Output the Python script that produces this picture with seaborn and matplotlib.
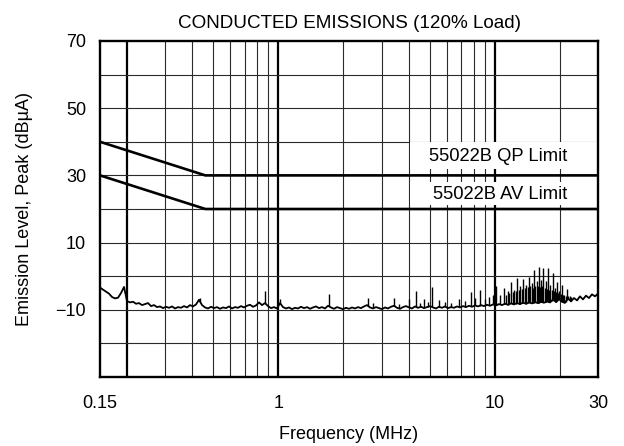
"""Conducted emissions plot (120% load) with 55022B limits"""

from matplotlib import pyplot as plt
import numpy as np
import pandas as pd
import seaborn as sns

# Limit lines (MHz, dBuA)
limit_freq = [0.15, 0.46, 30]
qp_limit = [40, 30, 30]
av_limit = [30, 20, 20]

trace_level = [
    -3.4, -4.0, -4.6, -5.2, -6.2, -6.6, -6.4, -5.0, -3.2, -7.4,
    -7.8, -7.6, -8.2, -8.0, -8.6, -8.3, -8.0, -8.9, -8.6, -9.2,
    -9.0, -9.5, -9.1, -9.4, -9.0, -9.6, -9.2, -9.4, -8.9, -9.3,
    -8.6, -9.0, -8.4, -7.0, -8.6, -9.3, -9.6, -9.1, -9.5, -9.2,
    -9.7, -9.3, -9.5, -9.0, -9.6, -9.2, -9.4, -8.9, -9.3, -8.8,
    -8.5, -9.1, -8.7, -7.8, -8.6, -8.0, -8.9, -9.5, -9.2, -9.6,
    -8.0, -9.2, -9.6, -9.3, -9.8, -9.4, -9.6, -9.1, -9.5, -9.2,
    -9.7, -9.3, -9.0, -9.5, -9.2, -9.6, -8.8, -9.3, -9.7, -9.2,
    -9.5, -9.8, -9.4, -9.7, -9.3, -9.6, -9.2, -9.5, -9.0, -8.6,
    -9.3, -9.6, -9.2, -9.5, -9.8, -9.3, -9.6, -9.1, -8.8, -9.4,
    -9.7, -9.2, -8.9, -9.3, -9.6, -9.0, -9.4, -9.1, -9.5, -9.2,
    -8.9, -9.3, -9.6, -9.1, -9.4, -9.0, -9.5, -9.2, -9.4, -9.0,
    -9.3, -8.9, -9.2, -8.8, -9.1, -8.7, -9.0, -8.6, -8.9, -8.5,
    -8.8, -8.4, -8.7, -8.3, -8.6, -8.2, -8.5, -8.1, -8.4, -8.0,
    -8.3, -7.9, -8.2, -7.8, -8.1, -7.7, -8.0, -7.6, -7.9, -7.5,
    -7.8, -6.9, -7.7, -6.8, -7.6, -7.9, -6.6, -7.5, -6.5, -7.2,
    -6.0, -6.9, -5.8, -6.5, -5.4, -6.0, -5.2,
]
trace_freq = np.geomspace(0.15, 30, len(trace_level))

# Narrow harmonic spikes above the noise floor (MHz, dBuA)
spike_freq = [
    0.435, 0.868, 1.018, 1.715, 2.60, 2.75, 3.42, 3.60, 4.02, 4.33,
    4.50, 4.71, 4.90, 5.13, 5.53, 5.90, 6.30, 6.84, 7.30, 7.77,
    8.10, 8.55, 9.00, 9.41, 9.80, 10.14, 10.60, 11.04, 11.50, 11.90,
    12.30, 12.68, 13.10, 13.52, 13.95, 14.40, 14.80, 15.19, 15.60, 16.02,
    16.40, 16.72, 17.20, 17.64, 18.10, 18.60, 19.00, 19.41, 19.90, 20.46,
    21.00, 21.58, 22.20,
    11.3, 11.7, 12.1, 12.5, 12.9, 13.3, 13.75, 14.2, 14.6, 15.0,
    15.4, 15.8, 16.2, 16.6, 17.0, 17.4, 17.9, 18.35, 18.8, 19.2,
    19.7, 20.2, 20.7, 21.3, 21.9, 22.6, 23.3, 24.0,
]
spike_peak = [
    -6.4, -4.3, -6.7, -5.2, -6.4, -8.0, -6.4, -8.2, -6.7, -4.3,
    -8.0, -6.7, -7.8, -3.1, -7.0, -7.8, -8.0, -6.7, -7.5, -4.6,
    -6.5, -4.0, -6.8, -6.1, -5.5, -2.8, -5.5, -3.4, -4.5, -1.6,
    -4.0, -0.4, -3.0, -0.7, -2.5, -0.1, -2.0, 1.9, -1.5, 2.8,
    -1.0, 2.5, -1.5, 2.5, -2.5, 1.0, -3.5, -1.6, -4.5, -2.5,
    -5.5, -3.7, -6.0,
    -5.5, -5.0, -4.8, -4.5, -4.2, -3.8, -3.5, -3.2, -3.0, -3.5,
    -3.0, -2.8, -3.2, -3.0, -3.5, -3.8, -4.0, -4.2, -4.5, -4.8,
    -5.0, -5.2, -5.5, -5.8, -6.0, -6.2, -6.5, -6.8,
]

x_ticks = [0.15, 1, 10, 30]
x_tick_labels = ['0.15', '1', '10', '30']
y_ticks = [70, 50, 30, 10, -10]
y_tick_labels = ['70', '50', '30', '10', '\u221210']


def emissions_plot():
    """Gráfico de emisiones conducidas"""
    sns.set_style('white')
    plt.rcParams['font.family'] = ['Liberation Sans', 'DejaVu Sans']
    plt.rcParams['text.color'] = 'black'
    plt.rcParams['axes.labelcolor'] = 'black'
    plt.rcParams['xtick.color'] = 'black'
    plt.rcParams['ytick.color'] = 'black'

    fig, ax = plt.subplots(figsize=(6.24, 4.46), dpi=100)
    fig.subplots_adjust(left=0.1603, right=0.9583, top=0.9081, bottom=0.1547)
    ax.set_xscale('log')
    ax.set_xlim(0.15, 30)
    ax.set_ylim(-30, 70)

    # Rejilla: finas en cada unidad, gruesas en 0.2, 1 y 10
    thin = [0.3, 0.4, 0.5, 0.6, 0.7, 0.8, 0.9, 2, 3, 4, 5, 6, 7, 8, 9, 20]
    for f in thin:
        ax.axvline(f, color='#2a2a2a', lw=0.8, zorder=1)
    for f in [0.2, 1, 10]:
        ax.axvline(f, color='black', lw=1.6, zorder=1)
    for level in range(-20, 70, 10):
        ax.axhline(level, color='#2a2a2a', lw=0.8, zorder=1)

    # Fondos blancos de las etiquetas de límite
    ax.axhspan(31.8, 39.9, xmin=0.622, xmax=1, color='white', lw=0, zorder=2)
    ax.axhspan(21.3, 27.9, xmin=0.622, xmax=1, color='white', lw=0, zorder=2)

    limits = pd.DataFrame({'freq': limit_freq, 'qp': qp_limit, 'av': av_limit})
    sns.lineplot(data=limits, x='freq', y='qp', color='black', lw=1.9,
                 estimator=None, ax=ax, zorder=4)
    sns.lineplot(data=limits, x='freq', y='av', color='black', lw=1.9,
                 estimator=None, ax=ax, zorder=4)

    trace = pd.DataFrame({'freq': trace_freq, 'level': trace_level})
    sns.lineplot(data=trace, x='freq', y='level', color='black', lw=1.3,
                 estimator=None, ax=ax, zorder=3)
    base = np.interp(np.log10(spike_freq), np.log10(trace_freq), trace_level)
    ax.vlines(spike_freq, base, spike_peak, color='black', lw=1.0, zorder=3)

    ax.text(21.6, 35.7, '55022B QP Limit', ha='right', va='center',
            fontsize=13.2, zorder=5)
    ax.text(21.6, 24.3, '55022B AV Limit', ha='right', va='center',
            fontsize=13.2, zorder=5)

    ax.set_xticks(x_ticks)
    ax.set_xticklabels(x_tick_labels)
    ax.xaxis.set_minor_locator(plt.NullLocator())
    ax.set_yticks(y_ticks)
    ax.set_yticklabels(y_tick_labels)
    ax.tick_params(axis='x', length=0, pad=13, labelsize=13)
    ax.tick_params(axis='y', length=0, pad=10, labelsize=13)

    for spine in ax.spines.values():
        spine.set_visible(True)
        spine.set_color('black')
        spine.set_linewidth(1.7)
        spine.set_zorder(6)

    ax.set_title('CONDUCTED EMISSIONS (120% Load)', fontsize=13.6, pad=9)
    ax.set_xlabel('Frequency (MHz)', fontsize=13, labelpad=10)
    ax.set_ylabel('Emission Level, Peak (dB\u00b5A)', fontsize=13, labelpad=16)

    fig.savefig('out.png', dpi=100)


emissions_plot()
